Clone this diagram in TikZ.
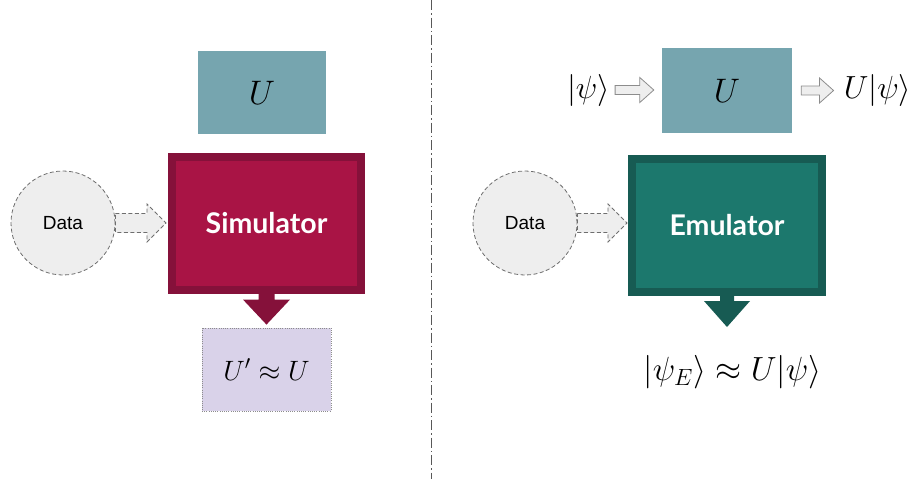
\RequirePackage{fix-cm}
\documentclass[tikz,border=0pt]{standalone}
\usepackage{fontspec}
\setmainfont{Latin Modern Roman}
\newfontfamily\arialfont{Liberation Sans}
\newfontfamily\boxfont{Lato}
\usetikzlibrary{calc}
\definecolor{ucol}{HTML}{76A5AF}
\definecolor{simout}{HTML}{85113A}
\definecolor{simin}{HTML}{A91445}
\definecolor{emuout}{HTML}{175B53}
\definecolor{emuin}{HTML}{1C786D}
\definecolor{lav}{HTML}{D9D2E9}
\definecolor{datafill}{HTML}{EEEEEE}
\definecolor{dgray}{HTML}{6E6E6E}
\definecolor{agray}{HTML}{8C8C8C}
\newcommand{\fatright}[6]{%
  \path let \p1=(#2), \p2=(#3) in [#1]
    (\x1,\y1+#4pt) -- (\x2-#6pt,\y1+#4pt) -- (\x2-#6pt,\y1+#5pt) -- (\x2,\y1)
    -- (\x2-#6pt,\y1-#5pt) -- (\x2-#6pt,\y1-#4pt) -- (\x1,\y1-#4pt) -- cycle;}
\newcommand{\fatdown}[6]{%
  \path let \p1=(#2), \p2=(#3) in [#1]
    (\x1-#4pt,\y1) -- (\x1-#4pt,\y2+#6pt) -- (\x1-#5pt,\y2+#6pt) -- (\x1,\y2)
    -- (\x1+#5pt,\y2+#6pt) -- (\x1+#4pt,\y2+#6pt) -- (\x1+#4pt,\y1) -- cycle;}
\tikzset{
  ubox/.style={fill=ucol, minimum width=#1, minimum height=83pt, inner sep=0pt,
     font=\fontsize{34}{40}\selectfont},
  bigbox/.style={line width=8pt, minimum width=189pt, minimum height=133pt, inner sep=0pt,
     text=white, font=\boxfont\bfseries\fontsize{28.5}{34}\selectfont},
  databox/.style={circle, draw=dgray, dashed, dash pattern=on 4pt off 2.5pt, line width=0.8pt,
     fill=datafill, minimum size=104pt, inner sep=0pt, font=\arialfont\fontsize{19}{23}\selectfont},
  dataarrow/.style={draw=dgray, dash pattern=on 4pt off 2.5pt, line width=0.8pt, fill=datafill},
  grayarrow/.style={draw=agray, line width=0.8pt, fill=datafill},
  mathtext/.style={inner sep=0pt, font=\fontsize{32}{38}\selectfont},
  divider/.style={draw=dgray!80!black, line width=1pt, dash pattern=on 10pt off 3pt on 1.5pt off 3pt},
}
\begin{document}
\begin{tikzpicture}[x=1pt,y=-1pt]
\useasboundingbox (0,0) rectangle (916,479);
% ---------- left ----------
\node[ubox=128pt] (uL) at (262,92.5) {$U$};
\node[bigbox, draw=simout, fill=simin] (sim) at (266.5,223.5) {Simulator};
\node[databox] (dataL) at (63,223) {Data};
\node[fill=lav, draw=agray, dash pattern=on 1pt off 1.2pt, line width=0.8pt,
      minimum width=129pt, minimum height=83pt, inner sep=0pt,
      font=\fontsize{28}{34}\selectfont] (upL) at (266.5,369.5) {$U'\approx U$};
\fatright{dataarrow}{dataL.east}{$(sim.west)+(-2,0)$}{9.5}{19}{19}
\fatdown{fill=simout}{$(sim.south)+(0,-1)$}{$(upL.north)+(0,-3)$}{8}{23.5}{25}
% ---------- divider ----------
\coordinate (dtop) at (431,0);
\coordinate (dbot) at (431,479);
\draw[divider] (dtop) -- (dbot);
% ---------- right ----------
\node[ubox=130pt, minimum height=85pt] (uR) at (727,90.5) {$U$};
\node[mathtext] (psi) at (588.5,90) {$|\psi\rangle$};
\node[mathtext] (upsi) at (877.5,90) {$U|\psi\rangle$};
\fatright{grayarrow}{$(psi.east)+(5,0)$}{$(uR.west)+(-8,0)$}{4.5}{12.5}{14}
\fatright{grayarrow}{$(uR.east)+(9,0)$}{$(upsi.west)+(-10,0)$}{4.5}{12.5}{14}
\node[bigbox, draw=emuout, fill=emuin, minimum width=190pt] (emu) at (727,225.5) {Emulator};
\node[databox] (dataR) at (525,223) {Data};
\fatright{dataarrow}{dataR.east}{$(emu.west)+(-1,0)$}{9.5}{19}{19}
\node[mathtext, font=\fontsize{33.5}{40}\selectfont] (res) at (732.5,372.5) {$|\psi_E\rangle\approx U|\psi\rangle$};
\coordinate (resTop) at (728,327);
\fatdown{fill=emuout}{$(emu.south)+(0,-1)$}{resTop}{7}{23}{26}
\end{tikzpicture}
\end{document}
